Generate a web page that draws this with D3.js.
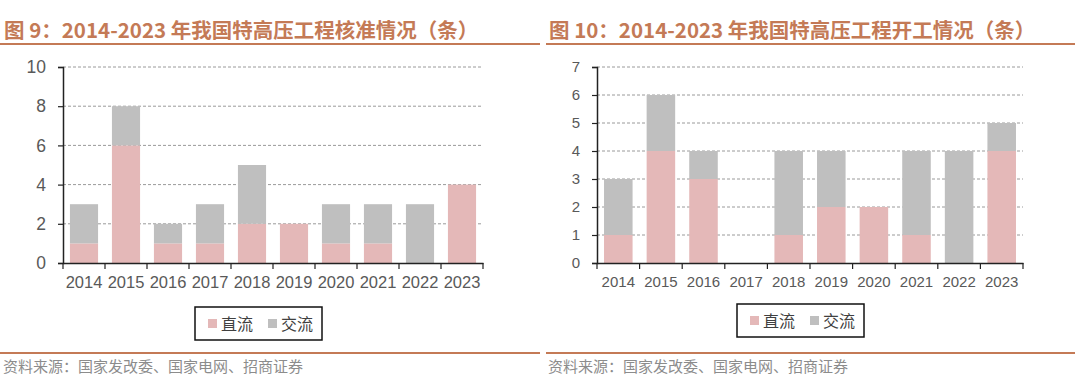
<!DOCTYPE html>
<html>
<head>
<meta charset="utf-8">
<script src="https://d3js.org/d3.v7.min.js"></script>
<style>
  body { margin: 0; background: #fff; }
  svg { display: block; }
</style>
</head>
<body>
<div id="chart"></div>
<script>
// years shared by both panels
var years = ["2014", "2015", "2016", "2017", "2018", "2019", "2020", "2021", "2022", "2023"];

// 图9 核准
var approvedDC = [1, 6, 1, 1, 2, 2, 1, 1, 0, 4];
var approvedAC = [2, 2, 1, 2, 3, 0, 2, 2, 3, 0];
var approvedTicks = [0, 2, 4, 6, 8, 10];

// 图10 开工
var startedDC = [1, 4, 3, 0, 1, 2, 2, 1, 0, 4];
var startedAC = [2, 2, 1, 0, 3, 2, 0, 3, 4, 1];
var startedTicks = [0, 1, 2, 3, 4, 5, 6, 7];

var seriesNames = ["直流", "交流"];
var seriesColors = ["#e4b8b8", "#bfbfbf"];

var titles = [
  "图 9：2014-2023 年我国特高压工程核准情况（条）",
  "图 10：2014-2023 年我国特高压工程开工情况（条）"
];
var sourceText = "资料来源：国家发改委、国家电网、招商证券";

var W = 1080, H = 384;
var accent = "#c47a56";
var cjk = "'Noto Sans CJK SC', sans-serif";
var latin = "'Liberation Sans', Arial, sans-serif";

var svg = d3.select("#chart").append("svg")
  .attr("width", W)
  .attr("height", H);

function drawPanel(opt) {
  var g = svg.append("g");

  // title + underline
  g.append("text")
    .attr("x", opt.titleX)
    .attr("y", 38)
    .style("font-family", cjk)
    .style("font-weight", "bold")
    .style("font-size", "20.5px")
    .style("fill", accent)
    .text(opt.title);
  g.append("line")
    .attr("x1", opt.lineX0).attr("x2", opt.lineX1)
    .attr("y1", 44).attr("y2", 44)
    .style("stroke", accent)
    .style("stroke-width", 2);

  var x = d3.scaleBand()
    .domain(years)
    .range([opt.left, opt.right])
    .paddingInner(0.33)
    .paddingOuter(0.165);

  var y = d3.scaleLinear()
    .domain([0, d3.max(opt.ticks)])
    .range([opt.bottom, opt.top]);

  // gridlines
  g.selectAll(".grid")
    .data(opt.ticks.filter(function(d) { return d > 0; }))
    .enter().append("line")
    .attr("x1", opt.left).attr("x2", opt.right)
    .attr("y1", function(d) { return y(d); })
    .attr("y2", function(d) { return y(d); })
    .style("stroke", "#9a9a9a")
    .style("stroke-width", 1)
    .style("stroke-dasharray", "3,2");

  // stacked bars
  var rows = years.map(function(yr, i) {
    return { year: yr, dc: opt.dc[i], ac: opt.ac[i] };
  });
  var stacked = d3.stack().keys(["dc", "ac"])(rows);

  g.selectAll(".layer")
    .data(stacked)
    .enter().append("g")
    .style("fill", function(d, i) { return seriesColors[i]; })
    .selectAll("rect")
    .data(function(d) { return d; })
    .enter().append("rect")
    .attr("x", function(d) { return x(d.data.year); })
    .attr("width", x.bandwidth())
    .attr("y", function(d) { return y(d[1]); })
    .attr("height", function(d) { return y(d[0]) - y(d[1]); });

  // y axis
  var yAxis = g.append("g")
    .attr("transform", "translate(" + opt.left + ",0)")
    .call(d3.axisLeft(y).tickValues(opt.ticks).tickSize(5).tickPadding(opt.yPad).tickFormat(d3.format("d")));
  yAxis.select(".domain").style("stroke", "#222").style("stroke-width", 1.5);
  yAxis.selectAll(".tick line").style("stroke", "#222").style("stroke-width", 1.2);
  yAxis.selectAll("text")
    .style("font-family", latin)
    .style("font-size", opt.yFont)
    .style("fill", "#595959");

  // x axis: ticks sit between categories
  var xAxis = g.append("g")
    .attr("transform", "translate(0," + opt.bottom + ")")
    .call(d3.axisBottom(x).tickSize(0).tickPadding(13));
  xAxis.select(".domain").style("stroke", "#222").style("stroke-width", 1.5);
  xAxis.selectAll("text")
    .style("font-family", latin)
    .style("font-size", opt.xFont)
    .style("fill", "#595959");
  var bounds = d3.range(years.length + 1).map(function(i) {
    return opt.left + i * x.step();
  });
  xAxis.selectAll(".sep")
    .data(bounds)
    .enter().append("line")
    .attr("x1", function(d) { return d; })
    .attr("x2", function(d) { return d; })
    .attr("y1", 0).attr("y2", 6)
    .style("stroke", "#222")
    .style("stroke-width", 1.2);

  // legend
  var lg = g.append("g").attr("transform", "translate(" + opt.legendX + "," + opt.legendY + ")");
  lg.append("rect")
    .attr("width", 127).attr("height", 33)
    .style("fill", "#fff")
    .style("stroke", "#111")
    .style("stroke-width", 1.5);
  seriesNames.forEach(function(name, i) {
    lg.append("rect")
      .attr("x", 13 + i * 60).attr("y", 12)
      .attr("width", 9).attr("height", 9)
      .style("fill", seriesColors[i]);
    lg.append("text")
      .attr("x", 26 + i * 60).attr("y", 23)
      .style("font-family", cjk)
      .style("font-size", "16px")
      .style("fill", "#404040")
      .text(name);
  });

  // bottom rule + source
  g.append("line")
    .attr("x1", opt.lineX0).attr("x2", opt.lineX1)
    .attr("y1", 353).attr("y2", 353)
    .style("stroke", accent)
    .style("stroke-width", 2);
  g.append("text")
    .attr("x", opt.srcX)
    .attr("y", 372)
    .style("font-family", cjk)
    .style("font-size", "15px")
    .style("fill", "#8c8c8c")
    .text(sourceText);
}

drawPanel({
  title: titles[0], titleX: 4, lineX0: 0, lineX1: 540,
  dc: approvedDC, ac: approvedAC, ticks: approvedTicks,
  left: 63, right: 483, top: 67, bottom: 263, yPad: 12,
  yFont: "17.5px", xFont: "16.5px",
  legendX: 195, legendY: 307, srcX: 3
});

drawPanel({
  title: titles[1], titleX: 549, lineX0: 546, lineX1: 1075,
  dc: startedDC, ac: startedAC, ticks: startedTicks,
  left: 597, right: 1023, top: 67, bottom: 263, yPad: 12,
  yFont: "15px", xFont: "15px",
  legendX: 737, legendY: 304, srcX: 548
});
</script>
</body>
</html>
